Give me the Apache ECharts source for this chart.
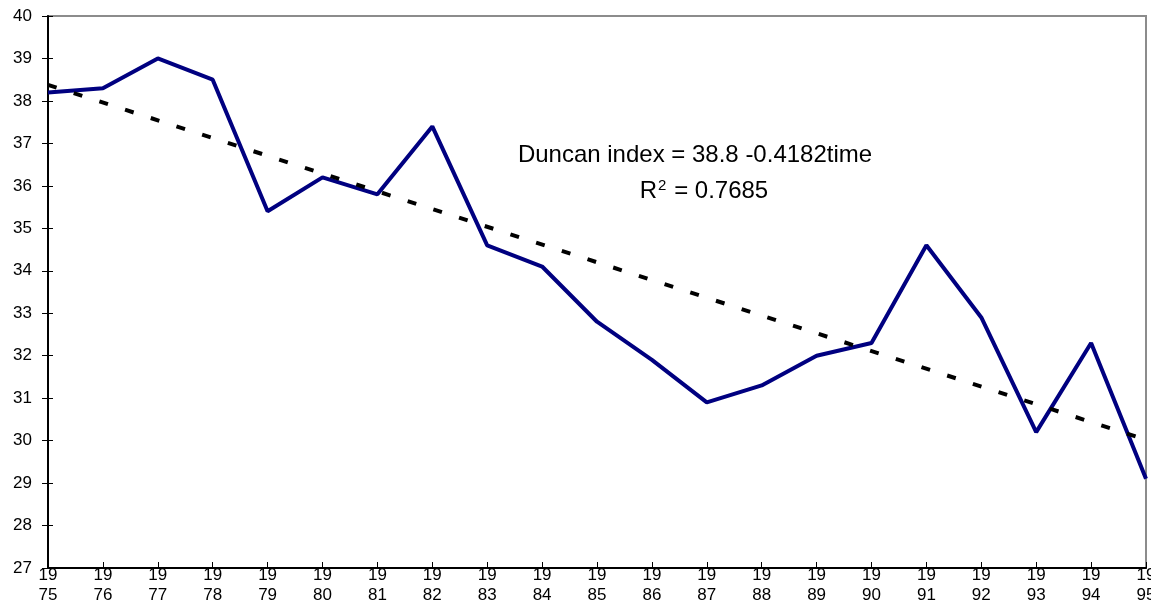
<!DOCTYPE html>
<html><head><meta charset="utf-8">
<script src="https://cdn.jsdelivr.net/npm/echarts@6/dist/echarts.min.js"></script>
<style>html,body{margin:0;padding:0;background:#fff}#c{width:1151px;height:605px}</style>
</head><body><div id="c"></div>
<script>
const years = ['1975','1976','1977','1978','1979','1980','1981','1982','1983','1984','1985','1986','1987','1988','1989','1990','1991','1992','1993','1994','1995'];
const duncan = [38.2,38.3,39.0,38.5,35.4,36.2,35.8,37.4,34.6,34.1,32.8,31.9,30.9,31.3,32.0,32.3,34.6,32.9,30.2,32.3,29.1];
const trendStart = 38.38, trendEnd = 30.02;
const trend = years.map((y,i)=> i===0 ? trendStart : (i===years.length-1 ? trendEnd : null));
const equationText = 'Duncan index = 38.8 -0.4182time';
const r2Value = '0.7685';

const font = 'Liberation Sans, Arial, sans-serif';
const chart = echarts.init(document.getElementById('c'));
chart.setOption({
  animation:false,
  backgroundColor:'#fff',
  grid:{left:48,right:5,top:16,bottom:37,show:true,borderColor:'#8c8c8c',borderWidth:2,containLabel:false,outerBoundsMode:'none'},
  xAxis:{type:'category',data:years,boundaryGap:false,
    axisLine:{lineStyle:{color:'#000',width:2}},
    axisTick:{inside:true,length:6,lineStyle:{color:'#000',width:1}},
    axisLabel:{interval:0,margin:-3,color:'#000',fontFamily:font,fontSize:17,lineHeight:20,
      formatter:v=>v.slice(0,2)+'\n'+v.slice(2)},
    splitLine:{show:false}},
  yAxis:[{type:'value',min:27,max:40,interval:1,
    axisLine:{show:true,lineStyle:{color:'#000',width:2}},
    axisTick:{show:true,length:6,lineStyle:{color:'#000',width:1}},
    axisLabel:{margin:16,color:'#000',fontFamily:font,fontSize:17,padding:[4,0,0,0]},
    splitLine:{show:false}},
   {type:'value',min:27,max:40,interval:1,position:'left',
    axisLine:{show:false},
    axisTick:{show:true,inside:true,length:5,lineStyle:{color:'#000',width:1}},
    axisLabel:{show:false},splitLine:{show:false}}],
  series:[
    {type:'line',data:duncan,symbol:'none',lineStyle:{color:'#000080',width:4},z:3},
    {type:'line',data:trend,connectNulls:true,symbol:'none',lineStyle:{color:'#000',width:4,type:[9,18]},z:4}
  ],
  graphic:[
    {type:'text',position:[695,155],style:{text:equationText,fill:'#000',font:'24px '+font,textAlign:'center',textVerticalAlign:'middle'}},
    {type:'text',position:[704,191],style:{text:'R{s|2} = '+r2Value,fill:'#000',font:'24px '+font,textAlign:'center',textVerticalAlign:'middle',
      rich:{s:{fontSize:15,fontFamily:font,verticalAlign:'top',padding:[0,1,10,1]}}}}
  ]
});
</script></body></html>
